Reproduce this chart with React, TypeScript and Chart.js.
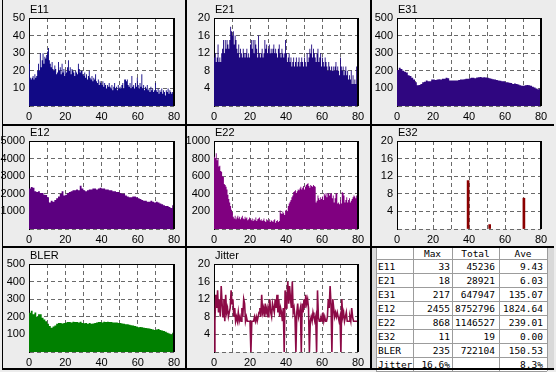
import React, { useEffect, useRef } from 'react';
import { Chart, registerables } from 'chart.js';

Chart.register(...registerables);

// ---------------- data ----------------
const FINE_STEP = 0.5; // x distance between samples of the fine series
const COARSE_STEP = 1; // x distance between samples of the coarse series

const e11Values = [
  24, 16, 15, 16, 17, 15, 18, 16, 17, 20,
  24, 20, 30, 22, 26, 30, 24, 28, 27, 29,
  31, 33, 26, 24, 22, 25, 21, 20, 23, 21,
  18, 19, 25, 20, 22, 18, 24, 19, 21, 17,
  20, 19, 22, 26, 20, 22, 18, 21, 20, 19,
  17, 20, 19, 18, 24, 21, 19, 20, 20, 18,
  17, 19, 16, 18, 15, 17, 20, 16, 15, 17,
  14, 16, 15, 18, 14, 13, 15, 12, 14, 13,
  12, 14, 11, 13, 12, 10, 12, 11, 13, 11,
  10, 12, 9, 11, 13, 10, 11, 9, 12, 10,
  11, 10, 12, 13, 10, 15, 15, 14, 15, 12,
  11, 13, 10, 17, 11, 12, 10, 13, 11, 16,
  12, 10, 13, 11, 18, 10, 12, 9, 11, 10,
  12, 9, 10, 8, 11, 9, 10, 8, 9, 13,
  9, 8, 10, 7, 9, 8, 10, 7, 9, 8,
  6, 9, 8, 10, 7, 9, 8, 7, 8, 6,
  7,
];

const e21Values = [
  11, 12, 10, 11, 14, 10, 11, 10, 12, 13,
  15, 12, 15, 13, 15, 14, 13, 15, 18, 17,
  16, 17, 14, 16, 15, 13, 12, 14, 11, 13,
  12, 11, 13, 12, 11, 12, 13, 11, 12, 11,
  14, 15, 13, 15, 12, 15, 14, 13, 11, 16,
  12, 11, 12, 13, 11, 12, 15, 13, 14, 12,
  13, 14, 12, 13, 12, 13, 14, 12, 13, 12,
  11, 13, 14, 12, 11, 13, 12, 11, 12, 15,
  12, 10, 11, 12, 10, 11, 9, 10, 11, 9,
  10, 11, 9, 10, 11, 9, 10, 11, 10, 9,
  11, 10, 9, 12, 10, 11, 13, 12, 14, 11,
  13, 12, 11, 10, 12, 13, 10, 11, 12, 9,
  11, 10, 9, 11, 10, 9, 8, 10, 9, 8,
  9, 8, 9, 8, 9, 10, 8, 9, 8, 7,
  11, 9, 8, 9, 7, 8, 9, 7, 8, 6,
  7, 6, 8, 5, 7, 5, 6, 5, 9, 7,
  7,
];

const e31Values = [
  205, 217, 210, 200, 195, 191, 175, 170, 160, 150,
  135, 118, 120, 125, 135, 138, 145, 140, 140, 150,
  150, 148, 150, 152, 150, 155, 155, 160, 158, 145,
  145, 145, 145, 145, 148, 150, 150, 152, 155, 155,
  158, 160, 160, 158, 162, 163, 165, 162, 163, 162,
  160, 158, 155, 152, 150, 148, 145, 143, 140, 140,
  135, 135, 132, 130, 125, 128, 125, 122, 118, 115,
  115, 118, 120, 118, 115, 110, 105, 100, 95, 100,
  110,
];

const e12Values = [
  2300, 2386, 2350, 2140, 2100, 2150, 2050, 2045, 1950, 1930,
  1800, 1500, 1600, 1550, 1650, 1750, 1850, 2000, 2150, 1900,
  1950, 2050, 2100, 2150, 2200, 2200, 2250, 2200, 2455, 2300,
  2200, 2150, 2200, 2250, 2250, 2300, 2300, 2250, 2300, 2350,
  2300, 2300, 2250, 2250, 2200, 2200, 2150, 2150, 2100, 2100,
  2050, 2000, 2000, 1900, 1850, 1800, 1800, 1850, 1850, 1800,
  1750, 1700, 1650, 1600, 1600, 1550, 1550, 1600, 1550, 1500,
  1550, 1500, 1450, 1400, 1350, 1300, 1300, 1250, 1200, 1350,
  1200,
];

const e22Values = [
  820, 800, 860, 780, 800, 710, 720, 660, 650, 600,
  590, 510, 500, 480, 450, 390, 340, 300, 260, 220,
  190, 140, 120, 150, 110, 130, 150, 120, 140, 110,
  130, 150, 120, 110, 140, 120, 130, 100, 110, 130,
  110, 100, 120, 90, 110, 100, 130, 90, 110, 120,
  130, 100, 110, 90, 100, 120, 90, 80, 110, 100,
  90, 110, 80, 100, 90, 80, 100, 110, 70, 90,
  100, 80, 90, 210, 180, 170, 200, 180, 160, 210,
  220, 200, 260, 290, 310, 330, 360, 380, 420, 430,
  440, 410, 430, 450, 440, 460, 480, 450, 470, 490,
  450, 480, 500, 510, 520, 490, 470, 500, 490, 480,
  500, 490, 480, 300, 320, 380, 350, 330, 360, 340,
  370, 330, 400, 380, 410, 360, 400, 410, 380, 400,
  410, 350, 380, 300, 350, 400, 410, 290, 300, 280,
  330, 290, 420, 410, 380, 300, 330, 360, 300, 330,
  350, 300, 320, 340, 360, 380, 370, 350, 380, 460,
  460,
];

const e32X = [39.5, 51.5, 70.5];
const e32Values = [11, 1, 7];

const blerValues = [
  223, 235, 215, 225, 200, 214, 215, 195, 185, 175,
  160, 148, 138, 145, 150, 160, 165, 165, 162, 165,
  168, 170, 170, 168, 172, 170, 170, 168, 172, 165,
  163, 165, 160, 165, 160, 162, 165, 168, 170, 170,
  168, 172, 170, 172, 170, 170, 168, 168, 168, 165,
  165, 162, 160, 158, 157, 155, 152, 150, 148, 145,
  140, 142, 140, 138, 136, 135, 133, 130, 128, 125,
  128, 130, 125, 122, 120, 115, 110, 105, 100, 110,
  115,
];

const jitterValues = [
  0, 7, 13, 10, 14, 9, 12, 8, 15, 11,
  8, 12, 7, 13, 9, 10, 8, 9, 10, 14,
  11, 12, 8, 10, 7, 8, 7, 9, 7, 8,
  7, 10, 8, 12, 11, 7, 8, 7, 7, 7,
  7, 0, 7, 7, 7, 8, 7, 8, 7, 8,
  9, 10, 8, 13, 9, 10, 8, 11, 9, 10,
  8, 10, 12, 9, 8, 11, 10, 9, 12, 10,
  13, 9, 12, 8, 10, 9, 7, 10, 0, 14,
  10, 12, 16, 11, 15, 12, 10, 16, 9, 10,
  8, 0, 9, 11, 8, 9, 10, 0, 11, 9,
  12, 10, 13, 11, 12, 10, 0, 7, 8, 7,
  9, 8, 7, 8, 0, 14, 8, 7, 7, 8,
  7, 9, 7, 8, 7, 7, 8, 12, 10, 15,
  11, 0, 12, 10, 8, 9, 8, 9, 8, 7,
  8, 0, 12, 8, 9, 7, 8, 9, 7, 7,
  7, 8, 7, 10, 8, 7, 7, 7, 7, 7,
  7,
];

const xTickLabels = [0, 20, 40, 60, 80];

const tableHeaders = ['', 'Max', 'Total', 'Ave'];
const tableNames = ['E11', 'E21', 'E31', 'E12', 'E22', 'E32', 'BLER', 'Jitter'];
const tableMax = ['33', '18', '217', '2455', '868', '11', '235', '16.6%'];
const tableTotal = ['45236', '28921', '647947', '8752796', '1146527', '19', '722104', ''];
const tableAve = ['9.43', '6.03', '135.07', '1824.64', '239.01', '0.00', '150.53', '8.3%'];

// ---------------- layout ----------------
const COLS = [
  { x: 0, w: 185, l: 29, r: 174 },
  { x: 185, w: 185, l: 214, r: 358 },
  { x: 370, w: 186, l: 397, r: 541 },
];
const ROWS = [
  { y: 0, h: 123, t: 18, b: 106 },
  { y: 123, h: 123, t: 141, b: 229 },
  { y: 246, h: 126, t: 264, b: 352 },
];

const FONT_FAMILY = "'Liberation Sans', Arial, sans-serif";
const GRID_COLOR = '#6a6a6a';
const GRID_DASH = [4, 3];

type PanelDef = {
  title: string;
  color: string;
  kind: 'area' | 'line' | 'bar';
  values: number[];
  step?: number;
  xs?: number[];
  yMax: number;
  yStep: number;
  col: number;
  row: number;
};

const panels: PanelDef[] = [
  { title: 'E11', color: '#110985', kind: 'area', values: e11Values, step: FINE_STEP, yMax: 50, yStep: 10, col: 0, row: 0 },
  { title: 'E21', color: '#1e087f', kind: 'area', values: e21Values, step: FINE_STEP, yMax: 20, yStep: 4, col: 1, row: 0 },
  { title: 'E31', color: '#2f0680', kind: 'area', values: e31Values, step: COARSE_STEP, yMax: 500, yStep: 100, col: 2, row: 0 },
  { title: 'E12', color: '#5c0080', kind: 'area', values: e12Values, step: COARSE_STEP, yMax: 5000, yStep: 1000, col: 0, row: 1 },
  { title: 'E22', color: '#800080', kind: 'area', values: e22Values, step: FINE_STEP, yMax: 1000, yStep: 200, col: 1, row: 1 },
  { title: 'E32', color: '#8b0000', kind: 'bar', values: e32Values, xs: e32X, yMax: 20, yStep: 4, col: 2, row: 1 },
  { title: 'BLER', color: '#008000', kind: 'area', values: blerValues, step: COARSE_STEP, yMax: 500, yStep: 100, col: 0, row: 2 },
  { title: 'Jitter', color: '#8c0a46', kind: 'line', values: jitterValues, step: FINE_STEP, yMax: 20, yStep: 4, col: 1, row: 2 },
];

function makeFramePlugin(title: string) {
  return {
    id: 'frame_' + title,
    beforeDraw(chart: any) {
      const { ctx, chartArea: a } = chart;
      ctx.save();
      ctx.fillStyle = '#ffffff';
      ctx.fillRect(a.left, a.top, a.right - a.left, a.bottom - a.top);
      ctx.restore();
    },
    afterDraw(chart: any) {
      const { ctx, chartArea: a } = chart;
      ctx.save();
      ctx.fillStyle = '#000000';
      ctx.fillRect(a.left, a.top, a.right - a.left + 1, 1);
      ctx.fillRect(a.right - 1, a.top, 2, a.bottom - a.top);
      ctx.font = `11px ${FONT_FAMILY}`;
      ctx.textAlign = 'left';
      ctx.textBaseline = 'alphabetic';
      ctx.fillText(title, a.left + 1, a.top - 5);
      ctx.restore();
    },
  };
}

function buildConfig(p: PanelDef): any {
  const col = COLS[p.col];
  const row = ROWS[p.row];
  const pts = p.kind === 'bar'
    ? p.values.map((v, i) => ({ x: (p.xs as number[])[i], y: v }))
    : p.values.map((v, i) => ({ x: i * (p.step as number), y: v }));

  let dataset: any;
  if (p.kind === 'area') {
    dataset = {
      type: 'line', data: pts, stepped: true, fill: 'origin',
      backgroundColor: p.color, borderColor: 'rgba(0,0,0,0)', borderWidth: 0,
      pointRadius: 0, tension: 0,
    };
  } else if (p.kind === 'line') {
    dataset = {
      type: 'line', data: pts, fill: false, borderColor: p.color, borderWidth: 1.6,
      pointRadius: 0, tension: 0,
    };
  } else {
    dataset = {
      type: 'bar', data: pts, backgroundColor: p.color, barThickness: 2, borderWidth: 0,
    };
  }

  const font = { family: FONT_FAMILY, size: 11 };
  return {
    type: p.kind === 'bar' ? 'bar' : 'line',
    data: { datasets: [dataset] },
    options: {
      animation: false,
      responsive: false,
      devicePixelRatio: 1,
      events: [],
      layout: {
        autoPadding: false,
        padding: { left: 0, top: row.t - row.y, right: col.x + col.w - col.r, bottom: 0 },
      },
      plugins: { legend: { display: false }, tooltip: { enabled: false }, title: { display: false } },
      scales: {
        x: {
          type: 'linear', min: 0, max: 80, offset: false,
          grid: { color: GRID_COLOR, lineWidth: 1, drawTicks: false, offset: false },
          border: { display: false, dash: GRID_DASH },
          ticks: {
            stepSize: 10, autoSkip: false, maxRotation: 0, minRotation: 0, padding: 4,
            color: '#000000', font,
            callback: (v: number) => (xTickLabels.includes(v) ? String(v) : ''),
          },
          afterFit: (s: any) => { s.height = row.y + row.h - row.b; },
        },
        y: {
          type: 'linear', min: 0, max: p.yMax,
          grid: { color: GRID_COLOR, lineWidth: 1, drawTicks: false },
          border: { display: true, color: '#000000', width: 1, dash: GRID_DASH },
          ticks: {
            stepSize: p.yStep, padding: 4, color: '#000000', font,
            callback: (v: number) => (v === 0 ? '' : String(v)),
          },
          afterFit: (s: any) => { s.width = col.l - col.x; },
        },
      },
    },
    plugins: [makeFramePlugin(p.title)],
  };
}

function Panel({ p }: { p: PanelDef }) {
  const ref = useRef<HTMLCanvasElement | null>(null);
  const col = COLS[p.col];
  const row = ROWS[p.row];
  useEffect(() => {
    if (!ref.current) return;
    const chart = new Chart(ref.current, buildConfig(p));
    return () => chart.destroy();
  }, []);
  return (
    <canvas
      ref={ref}
      width={col.w}
      height={row.h}
      style={{ position: 'absolute', left: col.x, top: row.y, width: col.w, height: row.h }}
    />
  );
}

const TABLE_COLS = [376, 413, 452, 499, 547];
const TABLE_ROWS = [247, 259, 273, 287, 301, 315, 329, 343, 357, 371];
const TABLE_FONT = "'DejaVu Sans Mono', 'Liberation Mono', monospace";

function StatsTable() {
  const cells: any[] = [];
  const lines: any[] = [];
  const x0 = TABLE_COLS[0];
  const x1 = TABLE_COLS[TABLE_COLS.length - 1];
  const y0 = TABLE_ROWS[0];
  const y1 = TABLE_ROWS[TABLE_ROWS.length - 1];
  TABLE_COLS.forEach((x, i) => {
    lines.push(<div key={'vc' + i} style={{ position: 'absolute', left: x, top: y0, width: 1, height: y1 - y0, background: '#9c9c9c' }} />);
  });
  TABLE_ROWS.forEach((y, i) => {
    lines.push(<div key={'hr' + i} style={{ position: 'absolute', left: x0, top: y, width: x1 - x0, height: 1, background: '#9c9c9c' }} />);
  });
  const colsText = [tableNames, tableMax, tableTotal, tableAve];
  const pads = [2, 2, 4, 4];
  const baseStyle = {
    position: 'absolute' as const,
    fontFamily: TABLE_FONT,
    fontSize: 9.5,
    color: '#000',
    whiteSpace: 'nowrap' as const,
    display: 'flex',
    alignItems: 'center',
  };
  tableHeaders.forEach((h, c) => {
    cells.push(
      <div key={'h' + c} style={{ ...baseStyle, left: TABLE_COLS[c], top: TABLE_ROWS[0], width: TABLE_COLS[c + 1] - TABLE_COLS[c], height: TABLE_ROWS[1] - TABLE_ROWS[0], justifyContent: 'center' }}>{h}</div>
    );
  });
  tableNames.forEach((_, r) => {
    colsText.forEach((arr, c) => {
      cells.push(
        <div key={'c' + r + '_' + c} style={{
          ...baseStyle,
          left: TABLE_COLS[c] + (c === 0 ? pads[c] : 0),
          top: TABLE_ROWS[r + 1],
          width: TABLE_COLS[c + 1] - TABLE_COLS[c] - pads[c],
          height: TABLE_ROWS[r + 2] - TABLE_ROWS[r + 1],
          justifyContent: c === 0 ? 'flex-start' : 'flex-end',
        }}>{arr[r]}</div>
      );
    });
  });
  return (
    <>
      <div style={{ position: 'absolute', left: 372, top: 248, width: 182, height: 120, background: '#d9d9d9' }} />
      <div style={{ position: 'absolute', left: x0, top: y0, width: x1 - x0, height: y1 - y0, background: '#ffffff' }} />
      {lines}
      {cells}
    </>
  );
}

export default function App() {
  const frame = '#000000';
  return (
    <div style={{ position: 'fixed', left: 0, top: 0, width: 556, height: 372, background: '#ececec', overflow: 'hidden' }}>
      <StatsTable />
      <div style={{ position: 'absolute', left: 2, top: 0, width: 1, height: 370, background: frame }} />
      <div style={{ position: 'absolute', left: 2, top: 368, width: 552, height: 2, background: frame }} />
      <div style={{ position: 'absolute', left: 185, top: 0, width: 2, height: 370, background: frame }} />
      <div style={{ position: 'absolute', left: 370, top: 0, width: 2, height: 370, background: frame }} />
      <div style={{ position: 'absolute', left: 2, top: 124, width: 552, height: 2, background: frame }} />
      <div style={{ position: 'absolute', left: 2, top: 246, width: 552, height: 2, background: frame }} />
      {panels.map((p) => <Panel key={p.title} p={p} />)}
    </div>
  );
}
